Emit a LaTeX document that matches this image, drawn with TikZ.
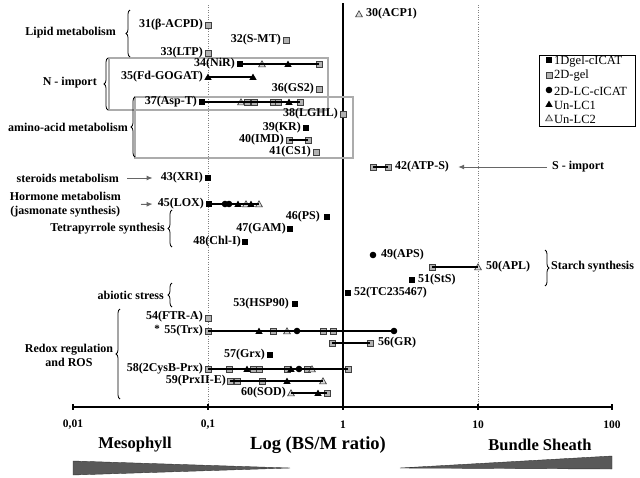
\documentclass[tikz,border=0pt]{standalone}
\usepackage{fontspec}
\setmainfont{Liberation Serif}
\usetikzlibrary{arrows.meta,decorations.pathreplacing}
% markers, (x,y) in pixels of the chart
\newcommand{\bsq}[2] {\fill (#1,#2) +(-2.8,-2.8) rectangle +(2.8,2.8);}
\newcommand{\gsq}[2] {\filldraw[fill=gray!60,draw=black!75,line width=0.6] (#1,#2) +(-3,-3) rectangle +(3,3);}
\newcommand{\btri}[2]{\fill (#1,#2) +(-3.6,2.8) -- +(3.6,2.8) -- +(0,-3.4) -- cycle;}
\newcommand{\otri}[2]{\filldraw[fill=gray!30,draw=black!80,line width=0.6] (#1,#2) +(-3.4,2.8) -- +(3.4,2.8) -- +(0,-3.2) -- cycle;}
\newcommand{\bdot}[2]{\fill (#1,#2) circle (3.3);}

\begin{document}
\begin{tikzpicture}[x=1pt,y=-1pt,
   lbl/.style={font=\bfseries\fontsize{12}{12}\selectfont,inner sep=0},
   cat/.style={font=\bfseries\fontsize{12}{14.5}\selectfont,inner sep=0,align=center},
   leg/.style={font=\fontsize{12.5}{12.5}\selectfont,inner sep=0,anchor=west},
   rowline/.style={line width=1.1},
   grp/.style={draw=gray!65,line width=1.2},
   brc/.style={decorate,decoration={brace,amplitude=4},line width=0.8},
   garrow/.style={-{Latex[length=6,width=5]},gray!80!black,line width=1}]
   \useasboundingbox (0,0) rectangle (640,477);
   % grid lines and axis
   \draw[dotted,gray] (208,5) -- (208,407);
   \draw[dotted,gray] (478,5) -- (478,407);
   \draw[line width=1.5] (343,3) -- (343,407);
   \draw[line width=1.2] (73,407) -- (612,407);
   \foreach \x/\t in {73/{0,01},208/{0,1},343/1,478/10,612/100} {
     \draw[line width=1.2] (\x,404) -- (\x,410);
     \node[font=\bfseries\fontsize{11.5}{11.5}\selectfont] at (\x,425) {\t};
   }
   \node[font=\bfseries\fontsize{16.5}{16.5}\selectfont] (meso) at (135,445) {Mesophyll};
   \node[font=\bfseries\fontsize{18.5}{18.5}\selectfont] (ratio) at (318,445) {Log (BS/M ratio)};
   \node[font=\bfseries\fontsize{16.5}{16.5}\selectfont] (bs) at (540,445) {Bundle Sheath};
   \filldraw[fill=black!65,draw=black!80] (73,461) -- (290,468) -- (73,475) -- cycle;
   \filldraw[fill=black!65,draw=black!80] (400,468) -- (612,456) -- (612,469) -- cycle;

   % group boxes
   \draw[grp] (109,58) rectangle (328,110);
   \draw[grp] (135,97) rectangle (353,158);

   % rows
   \otri{359}{14}
   \node[lbl,anchor=west] (l30) at (366,14) {30(ACP1)};
   \gsq{208}{25}
   \node[lbl,anchor=east] (l31) at (203,25) {31(β-ACPD)};
   \gsq{286}{40}
   \node[lbl,anchor=east] (l32) at (281,40) {32(S-MT)};
   \gsq{208}{53}
   \node[lbl,anchor=east] (l33) at (203,53) {33(LTP)};
   \bsq{240}{64} \otri{262}{64} \btri{288}{64} \gsq{319}{64}
   \draw[rowline] (240,64) -- (319,64);
   \node[lbl,anchor=east] (l34) at (235,64) {34(NiR)};
   \btri{208}{77} \btri{253}{77}
   \draw[rowline] (208,77) -- (253,77);
   \node[lbl,anchor=east] (l35) at (203,77) {35(Fd-GOGAT)};
   \gsq{319}{89}
   \node[lbl,anchor=east] (l36) at (314,89) {36(GS2)};
   \bsq{202}{102} \otri{241}{102}
   \foreach \x in {247,254,273,278,300} \gsq{\x}{102};
   \btri{289}{102}
   \draw[rowline] (202,102) -- (300,102);
   \node[lbl,anchor=east] (l37) at (197,102) {37(Asp-T)};
   \gsq{343}{114}
   \node[lbl,anchor=east] (l38) at (338,114) {38(LGHL)};
   \bsq{306}{128}
   \node[lbl,anchor=east] (l39) at (301,128) {39(KR)};
   \gsq{289}{140} \gsq{308}{140}
   \draw[rowline] (289,140) -- (308,140);
   \node[lbl,anchor=east] (l40) at (284,140) {40(IMD)};
   \gsq{316}{152}
   \node[lbl,anchor=east] (l41) at (311,152) {41(CS1)};
   \gsq{373}{167} \gsq{388}{167}
   \draw[rowline] (373,167) -- (388,167);
   \node[lbl,anchor=west] (l42) at (395,167) {42(ATP-S)};
   \bsq{208}{178}
   \node[lbl,anchor=east] (l43) at (203,178) {43(XRI)};
   \bsq{209}{204} \bdot{225}{204} \bdot{229}{204} \btri{238}{204}
   \otri{246}{204} \btri{251}{204} \otri{259}{204}
   \draw[rowline] (209,204) -- (259,204);
   \node[lbl,anchor=east] (l45) at (204,204) {45(LOX)};
   \bsq{327}{217}
   \node[lbl,anchor=east] (l46) at (320,217) {46(PS)};
   \bsq{290}{229}
   \node[lbl,anchor=east] (l47) at (286,229) {47(GAM)};
   \bsq{245}{242}
   \node[lbl,anchor=east] (l48) at (241,242) {48(Chl-I)};
   \bdot{373}{255}
   \node[lbl,anchor=west] (l49) at (381,255) {49(APS)};
   \gsq{432}{267} \otri{478}{267}
   \draw[rowline] (432,267) -- (478,267);
   \node[lbl,anchor=west] (l50) at (486,267) {50(APL)};
   \bsq{412}{280}
   \node[lbl,anchor=west] (l51) at (418,280) {51(StS)};
   \bsq{348}{293}
   \node[lbl,anchor=west] (l52) at (354,293) {52(TC235467)};
   \bsq{295}{304}
   \node[lbl,anchor=east] (l53) at (289,304) {53(HSP90)};
   \gsq{208}{318}
   \node[lbl,anchor=east] (l54) at (203,317) {54(FTR-A)};
   \foreach \x in {208,273,323,333} \gsq{\x}{331};
   \btri{259}{331} \otri{287}{331} \bdot{297}{331} \bdot{394}{331}
   \draw[rowline] (208,331) -- (394,331);
   \node[lbl,anchor=east] (l55) at (203,331) {55(Trx)};
   \node[lbl,anchor=east,font=\bfseries\fontsize{11}{11}\selectfont] (star) at (160,328.5) {*};
   \gsq{332}{343} \gsq{370}{343}
   \draw[rowline] (332,343) -- (370,343);
   \node[lbl,anchor=west] (l56) at (378,343) {56(GR)};
   \bsq{270}{355}
   \node[lbl,anchor=east] (l57) at (265,355) {57(Grx)};
   \foreach \x in {208,229,253,259,287,307,348} \gsq{\x}{369};
   \btri{247}{369} \btri{291}{369} \bdot{299}{369} \otri{312}{369}
   \draw[rowline] (208,369) -- (348,369);
   \node[lbl,anchor=east] (l58) at (203,369) {58(2CysB-Prx)};
   \foreach \x in {230,237,262} \gsq{\x}{381};
   \btri{287}{381} \otri{323}{381}
   \draw[rowline] (230,381) -- (323,381);
   \node[lbl,anchor=east] (l59) at (226,381) {59(PrxII-E)};
   \otri{291}{393} \btri{318}{393} \gsq{327}{393}
   \draw[rowline] (291,393) -- (327,393);
   \node[lbl,anchor=east] (l60) at (286,393) {60(SOD)};

   % pathway groups
   \node[cat,anchor=east] (lipid) at (116,33) {Lipid metabolism};
   \draw[brc] (130,57) -- (130,10);
   \node[cat,anchor=east] (nimport) at (97,83) {N - import};
   \draw[brc] (108,110) -- (108,58);
   \node[cat,anchor=east] (amino) at (128,127) {amino-acid metabolism};
   \draw[brc] (135,157) -- (135,97);
   \node[cat,anchor=east] (steroids) at (119,178) {steroids metabolism};
   \draw[garrow] ([xshift=8]steroids.east) -- ([xshift=-8]l43.west);
   \node[cat,anchor=east] (hormone) at (121,204.5) {Hormone metabolism\\(jasmonate synthesis)};
   \draw[garrow] ([xshift=20]hormone.east) -- ([xshift=-5]l45.west);
   \node[cat,anchor=east] (tetra) at (165,229) {Tetrapyrrole synthesis};
   \draw[brc] (172,247) -- (172,210);
   \node[cat,anchor=east] (abiotic) at (164,295) {abiotic stress};
   \draw[brc] (172,307) -- (172,283);
   \node[cat] (redox) at (69,355.5) {Redox regulation\\and ROS};
   \draw[brc] (120,399) -- (120,309);
   \draw[brc] (545,250) -- (545,286);
   \node[cat,anchor=west] (starch) at (551,267) {Starch synthesis};
   \node[cat,anchor=west] (simport) at (552,167) {S - import};
   \draw[garrow] ([xshift=-5]simport.west) -- ([xshift=9]l42.east);

   % legend
   \draw[line width=1] (539,55) rectangle (635,126);
   \bsq{549}{60} \gsq{549}{75} \bdot{549}{90} \btri{549}{104} \otri{549}{118}
   \node[leg] (k1) at (554,62) {1Dgel-cICAT};
   \node[leg] (k2) at (554,76) {2D-gel};
   \node[leg] (k3) at (554,91) {2D-LC-cICAT};
   \node[leg] (k4) at (554,105) {Un-LC1};
   \node[leg] (k5) at (554,119) {Un-LC2};
\end{tikzpicture}
\end{document}
